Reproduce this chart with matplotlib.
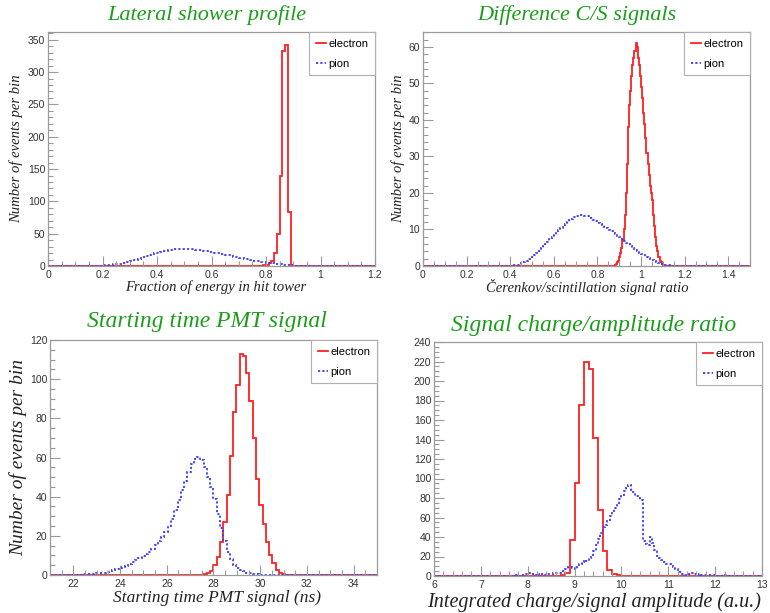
import numpy as np
import matplotlib
matplotlib.use("Agg")
import matplotlib.pyplot as plt
from matplotlib.ticker import MultipleLocator, AutoMinorLocator, FuncFormatter

# ---- data (bin counts) ----
# lateral shower profile, 0.01 wide bins
lat_e_start = 0.78
lat_e = [0.5, 1, 2, 4, 8, 20, 50, 140, 332, 342, 83, 2]
lat_pi_start = 0.15
lat_pi = [0.2, 0.3, 0.4, 0.5, 0.7, 0.9, 1.2, 1.5, 1.9, 2.4, 3.0, 3.7, 4.5, 5.4,
          6.4, 7.5, 8.7, 10.0, 11.3, 12.7, 14.1, 15.5, 16.9, 18.2, 19.5, 20.7,
          21.8, 22.8, 23.7, 24.5, 25.1, 25.6, 26.0, 26.3, 26.5, 26.5, 26.4,
          26.2, 25.9, 25.5, 25.0, 24.4, 23.7, 23.0, 22.2, 21.4, 20.6, 19.8,
          19.0, 18.1, 17.2, 16.3, 15.4, 14.5, 13.6, 12.7, 11.8, 10.9, 10.1,
          9.3, 8.5, 7.7, 7.0, 6.3, 5.7, 5.1, 4.5, 4.0, 3.5, 3.0, 2.6, 2.1,
          1.7, 1.3, 0.9, 0.5, 0.2]

# C/S ratio: electron 0.005 bins, pion 0.01 bins
cs_e_start = 0.88
cs_e = [0.3, 0.5, 1, 1.5, 2.5, 3.5, 5, 7, 10, 14, 20, 28, 38, 44, 48, 52, 55,
        57, 59, 61, 60, 57, 55, 52, 49, 46, 42, 39, 35, 31, 28, 25, 22, 20,
        18, 14, 11, 8, 5.5, 4, 2.5, 1.5, 1, 0.5, 0.3]
cs_pi_start = 0.40
cs_pi = [0.1, 0.2, 0.3, 0.4, 0.6, 0.8, 1.1, 1.4, 1.8, 2.2, 2.6, 3.1, 3.6, 4.2,
         4.8, 5.4, 6.0, 6.6, 7.3, 7.9, 8.6, 9.2, 9.8, 10.4, 11.0, 11.5, 12.0,
         12.5, 12.9, 13.3, 13.6, 13.8, 13.9, 13.9, 13.8, 13.6, 13.4, 13.1,
         12.7, 12.3, 11.9, 11.5, 11.1, 10.7, 10.3, 9.9, 9.5, 9.1, 8.7, 8.3,
         7.9, 7.4, 6.9, 6.4, 5.9, 5.4, 4.9, 4.4, 4.0, 3.6, 3.3, 3.0, 2.6, 2.3,
         1.9, 1.6, 1.3, 1.0, 0.8, 0.6, 0.4, 0.3, 0.2, 0.15, 0.1, 0.05]

# starting time, 0.14 ns bins
st_e_start = 27.58
st_e = [0.5, 1, 2, 5, 9, 17, 27, 41, 61, 83, 97, 113, 112, 103, 89, 70, 49,
        36, 26, 17, 10, 6, 2.5, 1, 0.3]
st_pi_start = 22.26
st_pi = [0.2, 0.3, 0.4, 0.5, 0.6, 0.8, 1.0, 1.2, 1.5, 1.9, 2.4, 2.9, 3.4,
         4.0, 4.8, 5.7, 6.6, 7.5, 8.5, 9.5, 10.8, 12.0, 13.5, 15.5, 17.5,
         19.5, 22.0, 25.0, 28.5, 33.0, 38.5, 43.5, 48.0, 52.5, 56.5, 59.0,
         60.5, 58.5, 55.0, 50.0, 45.0, 39.0, 31.0, 24.0, 17.5, 12.0, 8.0,
         5.0, 3.5, 2.5, 1.8, 1.2, 0.8, 0.5, 0.3, 0.2]

# charge/amplitude: electron 0.1 bins, pion 0.05 bins
qa_e_start = 8.7
qa_e = [1, 3, 37, 95, 175, 220, 212, 142, 68, 26, 6, 2, 1, 0.5, 0.5, 0.3]
qa_pi_start = 7.70
qa_pi = [0.5, 1, 0.5, 1, 1.5, 2, 3, 2, 2.5, 1.5, 2, 1.5, 2, 1.5, 2, 2.5, 2,
         3, 3.5, 3, 4, 5, 7, 9, 9.5, 8, 7, 9, 12, 14, 16, 15, 18, 21, 26, 32,
         38, 44, 50, 52, 56, 62, 66, 70, 74, 79, 83, 87, 90, 93, 88, 86, 82,
         80, 78, 36, 33, 32, 40, 34, 27, 21, 18, 16, 14, 12, 12, 11, 9, 7, 5,
         4, 2.5, 1.5, 1, 2.5, 3, 2, 1.5, 2, 1.5, 1, 1.5, 1, 0.8, 1, 0.5, 0.5,
         0.3, 0.5, 1, 0.5, 0.3, 0.5, 0.2, 0.1]


def full_hist(start, width, counts, xmin, xmax):
    n = int(round((xmax - xmin) / width))
    vals = np.zeros(n)
    i0 = int(round((start - xmin) / width))
    vals[i0:i0 + len(counts)] = counts
    edges = xmin + width * np.arange(n + 1)
    return edges, vals


RED = "#ff2020"
BLUE = "#3a3aff"
GREEN = "#1a9e1a"
FRAME = "#9a9a9a"

fig = plt.figure(figsize=(7.7, 6.13), dpi=100, facecolor="white")

panels = [
    dict(rect=[48, 32, 375, 266], xlim=(0, 1.2), ylim=(0, 362), xmaj=0.2, ymaj=50,
         e=(lat_e_start, 0.01, lat_e), pi=(lat_pi_start, 0.01, lat_pi),
         title="Lateral shower profile", tsize=16, tx=207, ty=15,
         xlabel="Fraction of energy in hit tower", xsize=10.5, xlx=216, xly=287,
         ylabel="Number of events per bin", ysize=10.5, ylx=16),
    dict(rect=[423, 32, 750, 266], xlim=(0, 1.5), ylim=(0, 64.1), xmaj=0.2, ymaj=10,
         e=(cs_e_start, 0.005, cs_e), pi=(cs_pi_start, 0.01, cs_pi),
         title="Difference C/S signals", tsize=16, tx=577, ty=15,
         xlabel="Čerenkov/scintillation signal ratio", xsize=10.5, xlx=587, xly=287,
         ylabel="Number of events per bin", ysize=10.5, ylx=398),
    dict(rect=[50, 340, 377, 575], xlim=(21, 35), ylim=(0, 120), xmaj=2, ymaj=20,
         e=(st_e_start, 0.14, st_e), pi=(st_pi_start, 0.14, st_pi),
         title="Starting time PMT signal", tsize=17, tx=207, ty=322,
         xlabel="Starting time PMT signal (ns)", xsize=12.5, xlx=217, xly=598,
         ylabel="Number of events per bin", ysize=14, ylx=18),
    dict(rect=[434, 342, 762, 576], xlim=(6, 13), ylim=(0, 240), xmaj=1, ymaj=20,
         e=(qa_e_start, 0.1, qa_e), pi=(qa_pi_start, 0.05, qa_pi),
         title="Signal charge/amplitude ratio", tsize=17, tx=594, ty=325,
         xlabel="Integrated charge/signal amplitude (a.u.)", xsize=14.5, xlx=594,
         xly=602, ylabel=None),
]

fmt = FuncFormatter(lambda v, pos: f"{v:g}")

W, H = 770.0, 613.0
for p in panels:
    l, t, r, b = p["rect"]
    ax = fig.add_axes([l / W, (H - b) / H, (r - l) / W, (b - t) / H])
    x0, x1 = p["xlim"]

    ed, ve = full_hist(*p["e"], x0, x1)
    ep, vp = full_hist(*p["pi"], x0, x1)
    ax.stairs(ve, ed, color=RED, lw=1.3, label="electron", baseline=None)
    ax.stairs(vp, ep, color=BLUE, lw=1.3, ls=(0, (1.2, 1.2)), label="pion",
              baseline=None)

    ax.set_xlim(x0, x1)
    ax.set_ylim(*p["ylim"])
    ax.xaxis.set_major_locator(MultipleLocator(p["xmaj"]))
    ax.yaxis.set_major_locator(MultipleLocator(p["ymaj"]))
    ax.xaxis.set_minor_locator(AutoMinorLocator())
    ax.yaxis.set_minor_locator(AutoMinorLocator())
    ax.xaxis.set_major_formatter(fmt)
    ax.yaxis.set_major_formatter(fmt)
    ax.tick_params(which="both", direction="in", colors=FRAME, labelcolor="#333333",
                   labelsize=7.5, top=False, right=False)
    ax.tick_params(which="major", length=7, width=0.8)
    ax.tick_params(which="minor", length=3.5, width=0.8)
    ax.tick_params(axis="x", pad=3)
    ax.tick_params(axis="y", pad=2)
    for sp in ax.spines.values():
        sp.set_color(FRAME)
        sp.set_linewidth(0.9)
    for lab in ax.get_xticklabels() + ax.get_yticklabels():
        lab.set_family("Liberation Sans")

    leg = ax.legend(loc="upper right", borderaxespad=0, fancybox=False,
                    edgecolor="#b0b0b0", framealpha=1, handlelength=0.9,
                    handletextpad=0.25, labelspacing=0.9, borderpad=0.6,
                    prop=dict(family="Liberation Sans", size=8))
    leg.get_frame().set_linewidth(0.8)

    fig.text(p["tx"] / W, 1 - p["ty"] / H, p["title"], ha="center", va="center",
             color=GREEN, family="Liberation Serif", style="italic",
             fontsize=p["tsize"])
    fig.text(p["xlx"] / W, 1 - p["xly"] / H, p["xlabel"], ha="center", va="center",
             color="#222222", family="Liberation Serif", style="italic",
             fontsize=p["xsize"])
    if p["ylabel"]:
        fig.text(p["ylx"] / W, 1 - (t + b) / 2 / H, p["ylabel"], ha="center",
                 va="center", rotation=90, color="#222222",
                 family="Liberation Serif", style="italic", fontsize=p["ysize"])

fig.savefig("out.png", dpi=100)
